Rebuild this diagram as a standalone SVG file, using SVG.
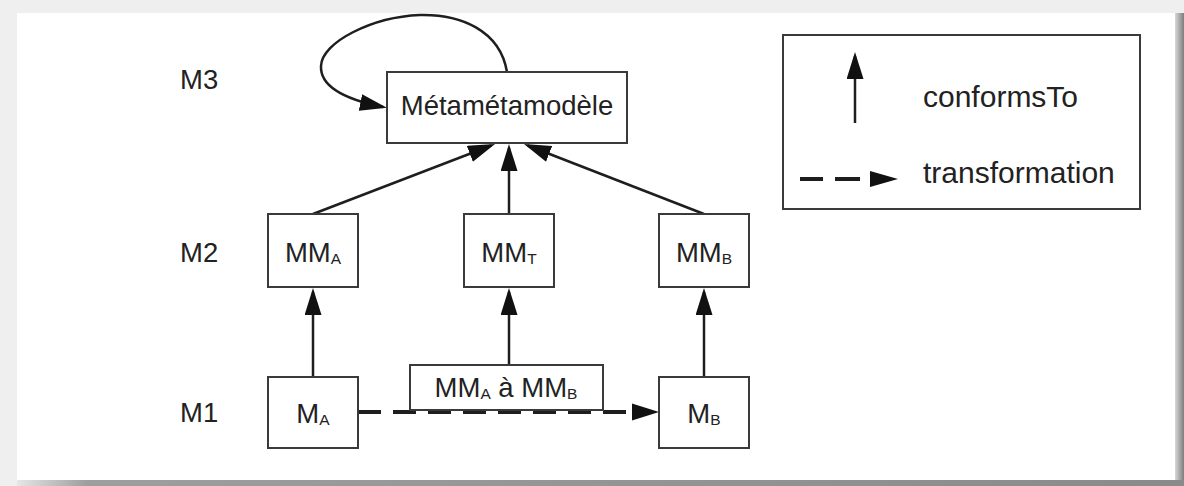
<svg xmlns="http://www.w3.org/2000/svg" width="1184" height="486" viewBox="0 0 1184 486">
  <style>
    .box { fill: #ffffff; stroke: #3a3a3a; stroke-width: 2; }
    .lbl { font-family: "Liberation Sans", Arial, sans-serif; font-size: 27.5px; fill: #222222; }
    .ctr { text-anchor: middle; }
    .sub { font-size: 15.5px; }
    .leg { font-family: "Liberation Sans", Arial, sans-serif; font-size: 30px; fill: #222222; }
    .conn { fill: none; stroke: #1e1e1e; stroke-width: 2.5; }
    .dash { fill: none; stroke: #1e1e1e; stroke-width: 4; stroke-dasharray: 23 12; }
  </style>
  <defs>
    <marker id="head" markerUnits="userSpaceOnUse" markerWidth="28" markerHeight="18" refX="23" refY="8.5" orient="auto">
      <path d="M0,0 L27,8.5 L0,17 z" fill="#111111"/>
    </marker>
    <linearGradient id="shadowRight" x1="0" y1="0" x2="1" y2="0">
      <stop offset="0" stop-color="#d8d8d8"/>
      <stop offset="1" stop-color="#7d7d7d"/>
    </linearGradient>
    <linearGradient id="shadowBottom" x1="0" y1="0" x2="1" y2="0">
      <stop offset="0" stop-color="#e6e6e6"/>
      <stop offset="0.06" stop-color="#9e9e9e"/>
      <stop offset="1" stop-color="#8a8a8a"/>
    </linearGradient>
  </defs>

  <!-- page background with drop shadow -->
  <rect x="0" y="0" width="1184" height="486" fill="#efefef"/>
  <rect x="1175" y="13" width="9" height="473" fill="url(#shadowRight)"/>
  <rect x="17" y="480" width="1167" height="6" fill="url(#shadowBottom)"/>
  <rect x="17" y="13" width="1158" height="467" fill="#ffffff"/>

  <!-- level labels -->
  <g id="levels">
    <text class="lbl" x="180" y="89">M3</text>
    <text class="lbl" x="180" y="262">M2</text>
    <text class="lbl" x="180" y="422">M1</text>
  </g>

  <!-- connectors -->
  <g id="connectors">
    <path class="conn" d="M507,72 C500,30 460,14 420,15 C372,17 322,42 321,66 C320,88 348,100 383,107" marker-end="url(#head)"/>
    <line class="conn" x1="313" y1="214" x2="491.3" y2="145.5" marker-end="url(#head)"/>
    <line class="conn" x1="509" y1="214" x2="509" y2="148" marker-end="url(#head)"/>
    <line class="conn" x1="704" y1="214" x2="527.7" y2="145.5" marker-end="url(#head)"/>
    <line class="conn" x1="313" y1="377" x2="313" y2="292" marker-end="url(#head)"/>
    <line class="conn" x1="509" y1="365" x2="509" y2="292" marker-end="url(#head)"/>
    <line class="conn" x1="704" y1="377" x2="704" y2="292" marker-end="url(#head)"/>
    <line class="dash" x1="358" y1="412" x2="634" y2="412"/>
    <path d="M632,403.5 L659,412 L632,420.5 z" fill="#111111"/>
  </g>

  <g id="metametamodel">
    <rect class="box" x="387" y="72" width="240" height="71"/>
    <text class="lbl ctr" x="507" y="115">Métamétamodèle</text>
  </g>

  <g id="mma">
    <rect class="box" x="268" y="214" width="90" height="73"/>
    <text class="lbl ctr" x="313" y="262">MM<tspan class="sub" dy="2">A</tspan></text>
  </g>

  <g id="mmt">
    <rect class="box" x="464" y="214" width="90" height="73"/>
    <text class="lbl ctr" x="509" y="262">MM<tspan class="sub" dy="2">T</tspan></text>
  </g>

  <g id="mmb">
    <rect class="box" x="659" y="214" width="90" height="73"/>
    <text class="lbl ctr" x="704" y="262">MM<tspan class="sub" dy="2">B</tspan></text>
  </g>

  <g id="ma">
    <rect class="box" x="268" y="377" width="90" height="71"/>
    <text class="lbl ctr" x="313" y="423">M<tspan class="sub" dy="2">A</tspan></text>
  </g>

  <g id="mb">
    <rect class="box" x="659" y="377" width="90" height="71"/>
    <text class="lbl ctr" x="704" y="423">M<tspan class="sub" dy="2">B</tspan></text>
  </g>

  <g id="transfo">
    <rect class="box" x="410" y="365" width="193" height="45"/>
    <text class="lbl ctr" x="506" y="397">MM<tspan class="sub" dy="2">A</tspan><tspan dy="-2"> à MM</tspan><tspan class="sub" dy="2">B</tspan></text>
  </g>

  <!-- legend -->
  <g id="legend">
    <rect class="box" x="783" y="35" width="357" height="174"/>
    <line class="conn" x1="855" y1="123" x2="855" y2="56" marker-end="url(#head)"/>
    <text class="leg" x="923" y="107">conformsTo</text>
    <line x1="800" y1="179" x2="823" y2="179" stroke="#1e1e1e" stroke-width="4"/>
    <line x1="835" y1="179" x2="860" y2="179" stroke="#1e1e1e" stroke-width="4"/>
    <path d="M870,171 L898,179 L870,187 z" fill="#111111"/>
    <text class="leg" x="923" y="183">transformation</text>
  </g>
</svg>
